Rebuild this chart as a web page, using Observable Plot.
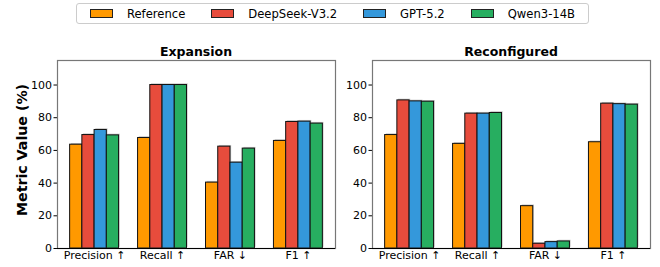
<!DOCTYPE html>
<html>
<head>
<meta charset="utf-8">
<script src="https://cdn.jsdelivr.net/npm/d3@7"></script>
<script src="https://cdn.jsdelivr.net/npm/@observablehq/plot@0.6"></script>
<style>
  body { margin: 0; background: #fff; }
  #chart { position: relative; width: 660px; height: 267px; font-family: "DejaVu Sans", sans-serif; overflow: hidden; }
  .panel { position: absolute; top: 40px; }
  .title { position: absolute; top: 44px; font-weight: bold; font-size: 12.5px; text-align: center; }
  #ylabel { position: absolute; left: 22px; top: 150px; transform: translate(-50%, -50%) rotate(-90deg); font-weight: bold; font-size: 14.2px; white-space: nowrap; }
  #legend { position: absolute; left: 76px; top: 3px; width: 513px; height: 21px; border: 1px solid #ccc; border-radius: 3px; display: flex; align-items: center; justify-content: center; gap: 26px; font-size: 11.6px; box-sizing: border-box; }
  .item { display: flex; align-items: center; }
  .sw { width: 21px; height: 7px; border: 1px solid #222; margin-right: 14px; }
</style>
</head>
<body>
<div id="chart">
  <div id="legend"></div>
  <div id="ylabel">Metric Value (%)</div>
</div>
<script>
const metrics = ["Precision ↑", "Recall ↑", "FAR ↓", "F1 ↑"];
const models = ["Reference", "DeepSeek-V3.2", "GPT-5.2", "Qwen3-14B"];
const colors = ["#FF9900", "#E74C3C", "#3498DB", "#27AE60"];
const panels = ["Expansion", "Reconfigured"];
const yTicks = [0, 20, 40, 60, 80, 100];

const expansionReference = [63.5, 67.6, 40.3, 65.8];
const expansionDeepSeek  = [69.4, 100, 62.3, 77.4];
const expansionGPT       = [72.5, 100, 52.5, 77.6];
const expansionQwen      = [69.2, 100, 61.1, 76.4];

const reconfiguredReference = [69.4, 64.0, 25.9, 65.0];
const reconfiguredDeepSeek  = [90.6, 82.5, 2.9, 88.6];
const reconfiguredGPT       = [90.0, 82.5, 3.9, 88.3];
const reconfiguredQwen      = [89.8, 82.9, 4.3, 88.0];

const barWidth = 0.18;

function buildRows(series) {
  const rows = [];
  models.forEach((model, i) => {
    series[i].forEach((v, j) => {
      rows.push({model, metric: metrics[j], x1: j + (i - 2) * barWidth, x2: j + (i - 1) * barWidth, value: v});
    });
  });
  return rows;
}

function panel(series, opts) {
  const data = buildRows(series);
  return Plot.plot({
    width: opts.width,
    height: 227,
    marginLeft: opts.marginLeft,
    marginRight: opts.marginRight,
    marginTop: 20,
    marginBottom: 19,
    style: {fontFamily: "DejaVu Sans", fontSize: "11px", color: "#000", background: "transparent"},
    x: {domain: [-0.546, 3.546], ticks: [0, 1, 2, 3], tickFormat: i => metrics[i], tickSize: 0, tickPadding: 3, label: null},
    y: {domain: [0, 115], ticks: yTicks, tickSize: 3.5, tickPadding: 2, label: null},
    color: {domain: models, range: colors},
    marks: [
      Plot.rect(data, {x1: "x1", x2: "x2", y1: 0, y2: "value", fill: "#000", fillOpacity: 0.22, dx: 1.2, dy: -1.2}),
      Plot.rect(data, {x1: "x1", x2: "x2", y1: 0, y2: "value", fill: "model", stroke: "#111", strokeWidth: 1}),
      Plot.frame({stroke: "#777", strokeWidth: 1.2}),
      Plot.ruleY([0], {stroke: "#000", strokeWidth: 1.2})
    ]
  });
}

const chart = document.getElementById("chart");
const layouts = [
  {left: 0, width: 340, marginLeft: 57, marginRight: 5, series: [expansionReference, expansionDeepSeek, expansionGPT, expansionQwen], titleLeft: 57, titleWidth: 278},
  {left: 330, width: 330, marginLeft: 42, marginRight: 10, series: [reconfiguredReference, reconfiguredDeepSeek, reconfiguredGPT, reconfiguredQwen], titleLeft: 372, titleWidth: 278}
];
layouts.forEach((l, k) => {
  const p = panel(l.series, l);
  p.classList.add("panel");
  p.style.left = l.left + "px";
  chart.appendChild(p);
  const t = document.createElement("div");
  t.className = "title";
  t.style.left = l.titleLeft + "px";
  t.style.width = l.titleWidth + "px";
  t.textContent = panels[k];
  chart.appendChild(t);
});

const legend = document.getElementById("legend");
models.forEach((m, i) => {
  const it = document.createElement("div");
  it.className = "item";
  const sw = document.createElement("div");
  sw.className = "sw";
  sw.style.background = colors[i];
  const tx = document.createElement("span");
  tx.textContent = m;
  it.appendChild(sw);
  it.appendChild(tx);
  legend.appendChild(it);
});
</script>
</body>
</html>
